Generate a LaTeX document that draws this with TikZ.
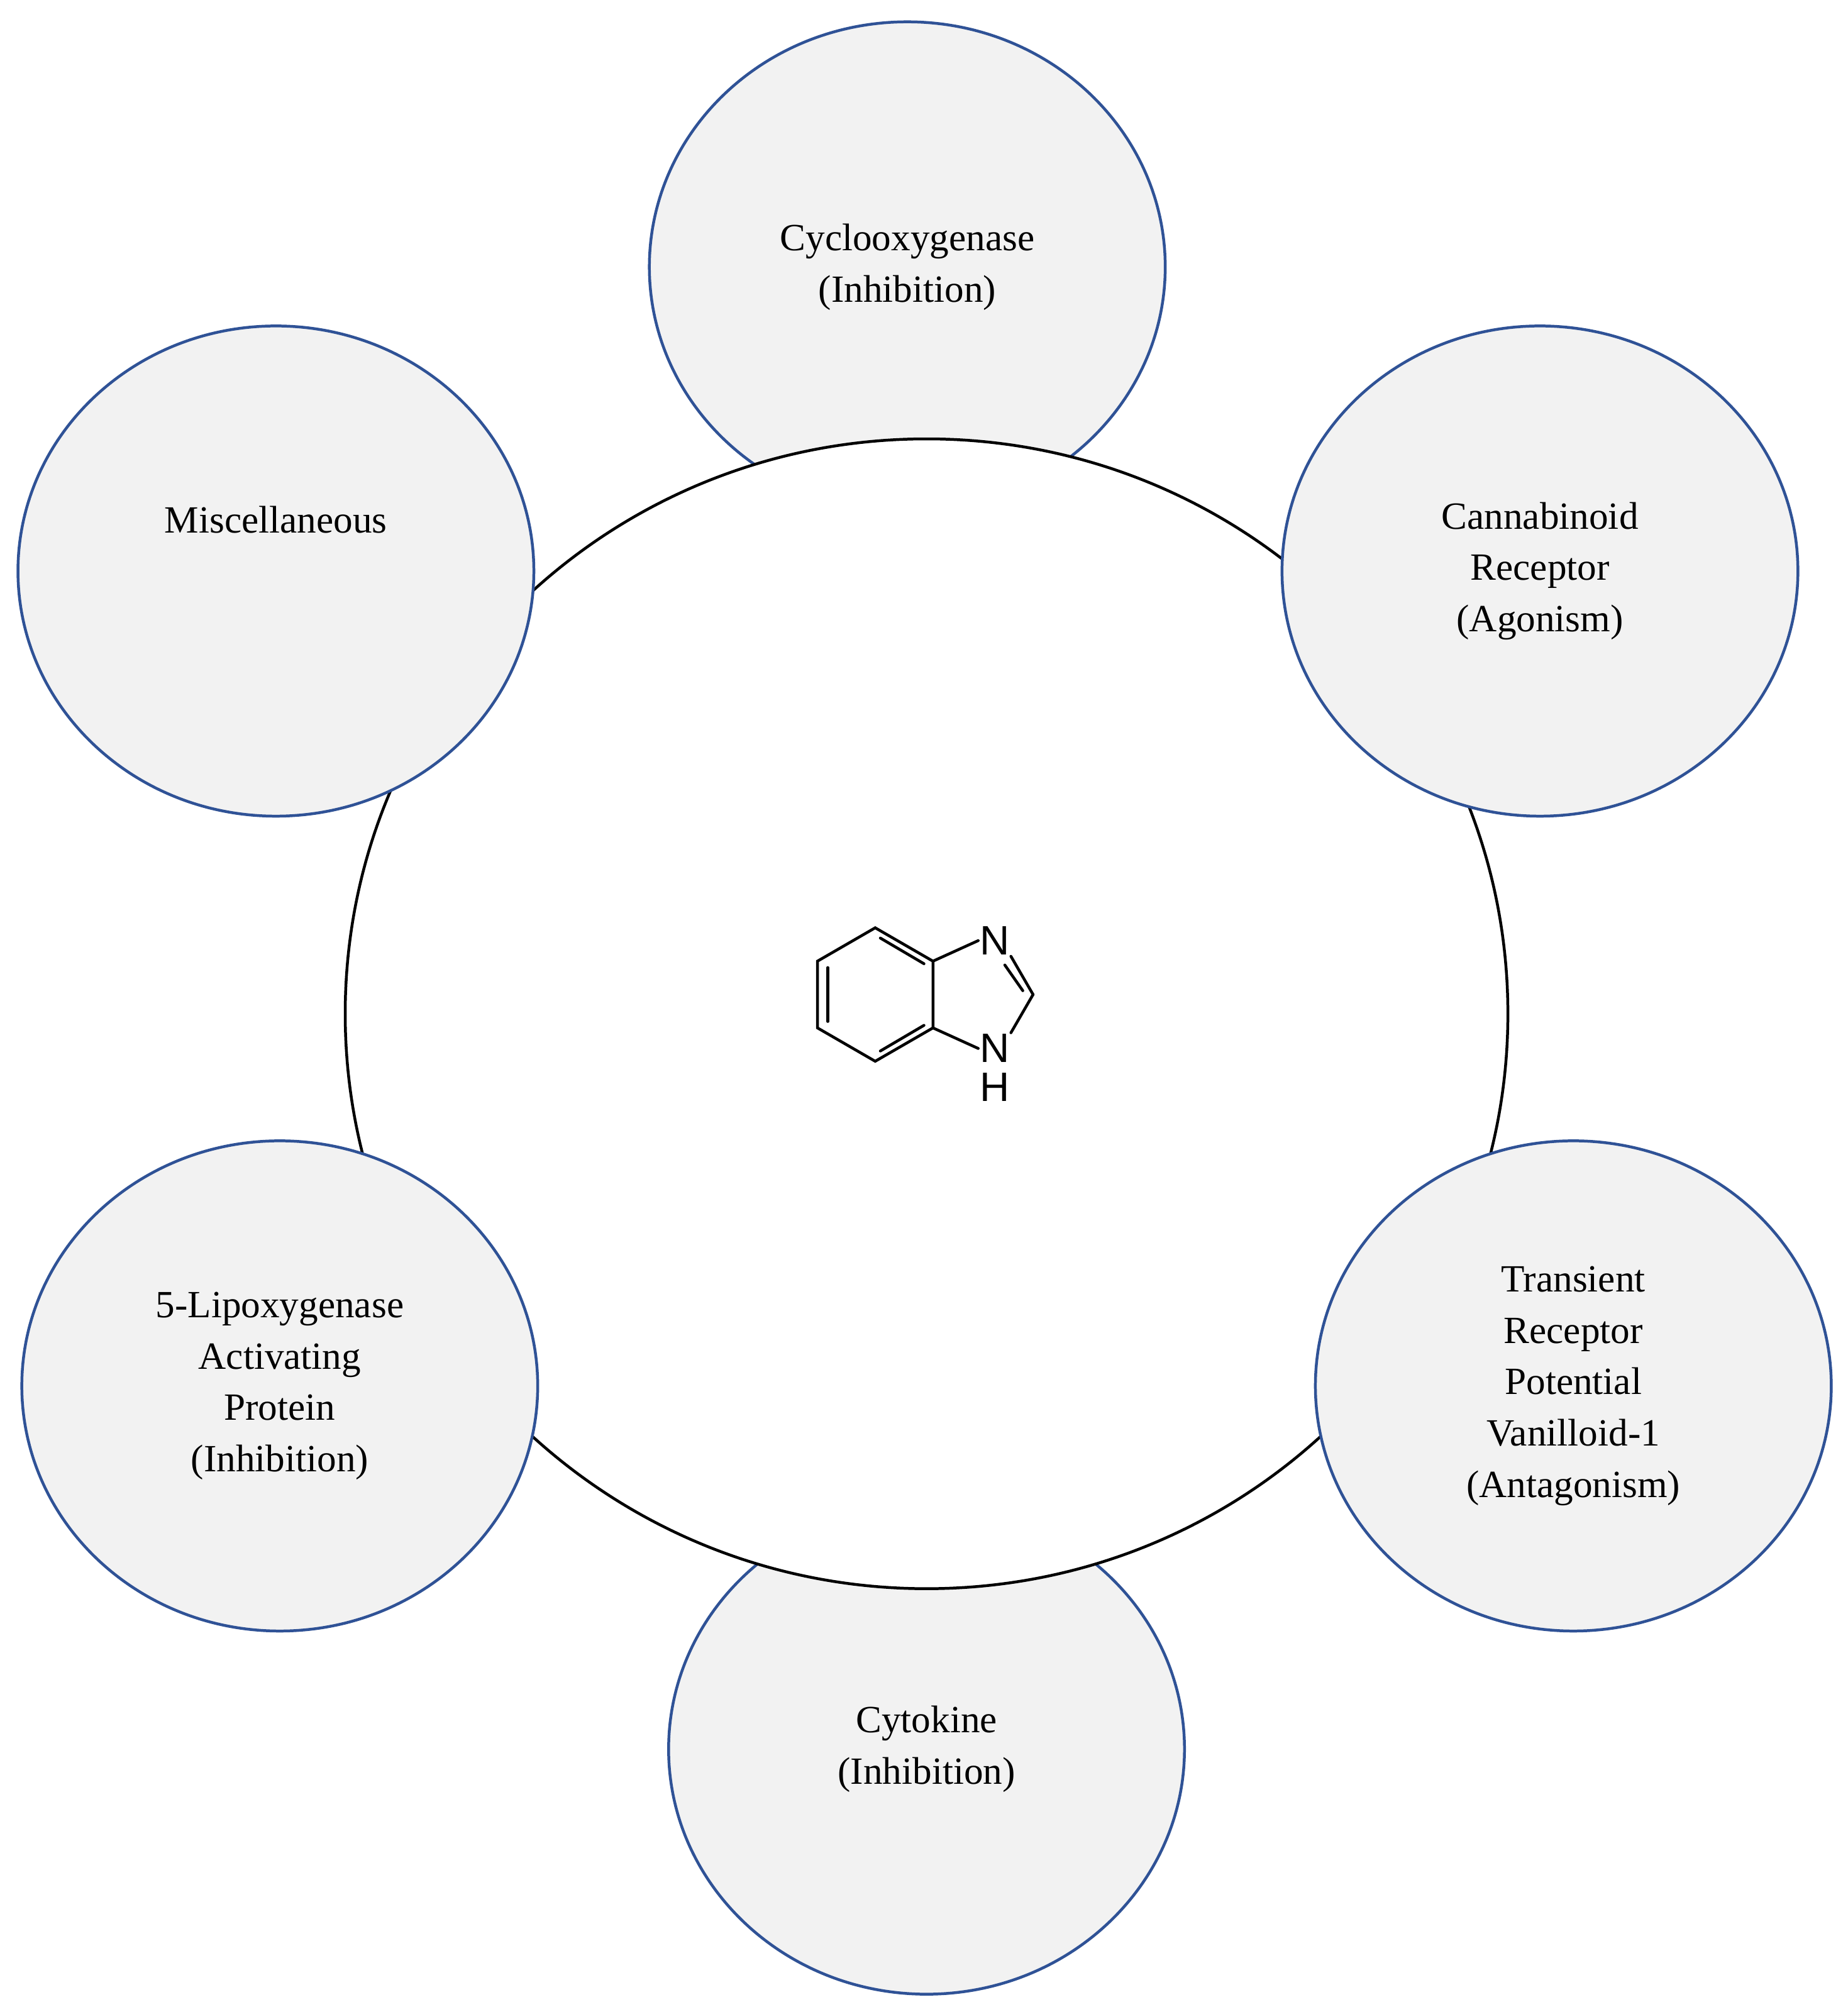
\documentclass[tikz,border=0pt]{standalone}
\usepackage{fontspec}
\setmainfont{Liberation Serif}
\newfontfamily\molfont{Liberation Sans}
\definecolor{cborder}{RGB}{47,82,150}
\definecolor{cfill}{RGB}{242,242,242}
\begin{document}
\begin{tikzpicture}[x=1pt,y=-1pt,
  small/.style={ellipse,draw=cborder,fill=cfill,line width=2.2pt,minimum width=402pt,minimum height=382pt,align=center,font=\fontsize{30}{40}\selectfont,inner sep=0pt},
  bond/.style={line width=2.2pt,line cap=round}]
\usetikzlibrary{shapes.geometric}
\useasboundingbox (0,0) rectangle (1440,1564);
\node[small] (cox) at (707,208) {Cyclooxygenase\\(Inhibition)};
\node[small] (cyt) at (722,1363) {Cytokine\\(Inhibition)};
\node[ellipse,draw=black,fill=white,line width=2.2pt,minimum width=906pt,minimum height=896pt] (core) at (722,790) {};
\node[small] (can) at (1200,445) {Cannabinoid\\Receptor\\(Agonism)};
\node[small] (misc) at (215,445) {Miscellaneous\\[40pt]};
\node[small] (trp) at (1226,1080) {Transient\\Receptor\\Potential\\Vanilloid-1\\(Antagonism)};
\node[small] (lox) at (218,1080) {5-Lipoxygenase\\Activating\\Protein\\(Inhibition)};
% benzimidazole
\coordinate (a1) at (682,723);
\coordinate (a2) at (727,749);
\coordinate (a3) at (727,801);
\coordinate (a4) at (682,827);
\coordinate (a5) at (637,801);
\coordinate (a6) at (637,749);
\coordinate (c2) at (805,775);
\node[font=\molfont\fontsize{32}{32}\selectfont,inner sep=1pt] (n1) at (775,733) {N};
\node[font=\molfont\fontsize{32}{32}\selectfont,inner sep=1pt] (n3) at (775,817) {N};
\node[font=\molfont\fontsize{32}{32}\selectfont,inner sep=1pt] (h) at (775,847) {H};
\draw[bond] (a1)--(a2)--(a3)--(a4)--(a5)--(a6)--cycle;
\draw[bond] (645,754)--(645,796);
\draw[bond] (686,731)--(720,751);
\draw[bond] (686,819)--(720,799);
\draw[bond] (a2)--(n1.west);
\draw[bond] (a3)--(n3.west);
\draw[bond] (n1.south east)--(c2);
\draw[bond] (783,752)--(797,772);
\draw[bond] (c2)--(n3.north east);
\end{tikzpicture}
\end{document}
